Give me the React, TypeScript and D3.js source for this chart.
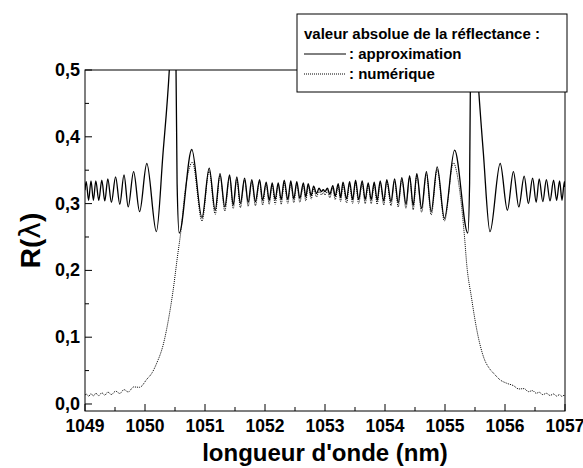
import React from "react";
import * as d3 from "d3";

// ---- data ----
// Approximation: oscillation extrema (wavelength in nm, |R|)
const approxWl = [
  1049.0, 1049.02, 1049.06, 1049.1, 1049.14, 1049.18, 1049.23, 1049.28, 1049.33, 1049.38,
  1049.44, 1049.51, 1049.58, 1049.65, 1049.72, 1049.81, 1049.91, 1050.03, 1050.19, 1050.3,
  1050.405, 1050.46, 1050.517, 1050.535, 1050.57, 1050.78, 1050.95, 1051.07, 1051.17, 1051.25,
  1051.33, 1051.41, 1051.47, 1051.53, 1051.59, 1051.66, 1051.72, 1051.78, 1051.84, 1051.91,
  1051.96, 1052.02, 1052.07, 1052.12, 1052.17, 1052.22, 1052.27, 1052.32, 1052.38, 1052.43,
  1052.48, 1052.53, 1052.58, 1052.64, 1052.68, 1052.72, 1052.77, 1052.81, 1052.86, 1052.9,
  1052.94, 1052.97, 1053.0, 1053.04, 1053.08, 1053.13, 1053.17, 1053.22, 1053.26, 1053.3,
  1053.36, 1053.41, 1053.46, 1053.51, 1053.56, 1053.62, 1053.67, 1053.72, 1053.77, 1053.82,
  1053.87, 1053.92, 1053.98, 1054.03, 1054.1, 1054.16, 1054.22, 1054.28, 1054.35, 1054.41,
  1054.47, 1054.53, 1054.61, 1054.69, 1054.77, 1054.87, 1054.99, 1055.16, 1055.38, 1055.41,
  1055.425, 1055.48, 1055.54, 1055.64, 1055.75, 1055.92, 1056.04, 1056.14, 1056.23, 1056.32,
  1056.39, 1056.46, 1056.52, 1056.57, 1056.63, 1056.69, 1056.75, 1056.81, 1056.86, 1056.91,
  1056.95, 1056.99, 1057.0,
];
const approxR = [
  0.32, 0.333, 0.305, 0.334, 0.305, 0.334, 0.305, 0.335, 0.304, 0.337,
  0.302, 0.34, 0.299, 0.343, 0.295, 0.348, 0.288, 0.36, 0.258, 0.375,
  0.5, 0.6, 0.5, 0.33, 0.256, 0.381, 0.279, 0.353, 0.29, 0.345,
  0.295, 0.343, 0.298, 0.34, 0.3, 0.338, 0.302, 0.336, 0.303, 0.336,
  0.305, 0.332, 0.305, 0.331, 0.306, 0.331, 0.306, 0.335, 0.306, 0.334,
  0.307, 0.333, 0.308, 0.331, 0.31, 0.33, 0.312, 0.326, 0.315, 0.323,
  0.318, 0.321, 0.318, 0.323, 0.314, 0.327, 0.311, 0.33, 0.309, 0.332,
  0.307, 0.333, 0.306, 0.335, 0.306, 0.334, 0.306, 0.331, 0.306, 0.332,
  0.305, 0.334, 0.304, 0.336, 0.303, 0.337, 0.301, 0.339, 0.299, 0.342,
  0.297, 0.345, 0.293, 0.348, 0.288, 0.355, 0.278, 0.38, 0.256, 0.33,
  0.5, 0.6, 0.5, 0.375, 0.258, 0.36, 0.29, 0.348, 0.295, 0.341,
  0.3, 0.338, 0.302, 0.337, 0.303, 0.336, 0.304, 0.335, 0.305, 0.334,
  0.305, 0.333, 0.325,
];

// Numerical solution
const numWl = [
  1049.0, 1049.02, 1049.06, 1049.1, 1049.14, 1049.18, 1049.23, 1049.28, 1049.33, 1049.38,
  1049.44, 1049.51, 1049.58, 1049.65, 1049.72, 1049.81, 1049.91, 1050.03, 1050.12, 1050.19,
  1050.31, 1050.39, 1050.47, 1050.54, 1050.6, 1050.67, 1050.73, 1050.79, 1050.95, 1051.07,
  1051.17, 1051.25, 1051.33, 1051.41, 1051.47, 1051.53, 1051.59, 1051.66, 1051.72, 1051.78,
  1051.84, 1051.91, 1051.96, 1052.02, 1052.07, 1052.12, 1052.17, 1052.22, 1052.27, 1052.32,
  1052.38, 1052.43, 1052.48, 1052.53, 1052.58, 1052.64, 1052.68, 1052.72, 1052.77, 1052.81,
  1052.86, 1052.9, 1052.94, 1052.97, 1053.0, 1053.04, 1053.08, 1053.13, 1053.17, 1053.22,
  1053.26, 1053.3, 1053.36, 1053.41, 1053.46, 1053.51, 1053.56, 1053.62, 1053.67, 1053.72,
  1053.77, 1053.82, 1053.87, 1053.92, 1053.98, 1054.03, 1054.1, 1054.16, 1054.22, 1054.28,
  1054.35, 1054.41, 1054.47, 1054.53, 1054.61, 1054.69, 1054.77, 1054.87, 1054.99, 1055.14,
  1055.2, 1055.25, 1055.33, 1055.36, 1055.44, 1055.53, 1055.64, 1055.75, 1055.81, 1055.92,
  1056.03, 1056.14, 1056.23, 1056.32, 1056.39, 1056.46, 1056.52, 1056.57, 1056.63, 1056.69,
  1056.75, 1056.81, 1056.86, 1056.91, 1056.95, 1056.99, 1057.0,
];
const numR = [
  0.013, 0.015, 0.0115, 0.0155, 0.012, 0.016, 0.0125, 0.0168, 0.0132, 0.0178,
  0.0142, 0.0192, 0.0158, 0.0215, 0.018, 0.0255, 0.025, 0.037, 0.047, 0.06,
  0.091, 0.126, 0.171, 0.22, 0.26, 0.32, 0.35, 0.362, 0.274, 0.349,
  0.284, 0.342, 0.289, 0.34, 0.292, 0.337, 0.294, 0.335, 0.296, 0.333,
  0.297, 0.333, 0.298, 0.329, 0.299, 0.328, 0.299, 0.328, 0.299, 0.331,
  0.3, 0.33, 0.301, 0.329, 0.302, 0.327, 0.304, 0.326, 0.307, 0.322,
  0.31, 0.319, 0.313, 0.317, 0.313, 0.319, 0.309, 0.323, 0.306, 0.326,
  0.303, 0.328, 0.301, 0.329, 0.3, 0.331, 0.3, 0.33, 0.3, 0.328,
  0.3, 0.329, 0.299, 0.331, 0.298, 0.333, 0.297, 0.334, 0.295, 0.336,
  0.293, 0.339, 0.291, 0.342, 0.287, 0.345, 0.283, 0.351, 0.274, 0.361,
  0.345, 0.316, 0.245, 0.211, 0.16, 0.111, 0.071, 0.052, 0.046, 0.036,
  0.031, 0.0275, 0.0225, 0.023, 0.0185, 0.02, 0.016, 0.0175, 0.014, 0.016,
  0.0128, 0.015, 0.0118, 0.014, 0.0112, 0.0135, 0.0125,
];

const xTicks = [1049, 1050, 1051, 1052, 1053, 1054, 1055, 1056, 1057];
const xMinorTicks = [1049.5, 1050.5, 1051.5, 1052.5, 1053.5, 1054.5, 1055.5, 1056.5];
const yTicks = [0, 0.1, 0.2, 0.3, 0.4, 0.5];
const yMinorTicks = [0.05, 0.15, 0.25, 0.35, 0.45];

const legendTitle = "valeur absolue de la réflectance :";
const legendItems = [": approximation", ": numérique"];

export default function App() {
  const W = 583;
  const H = 468;
  const left = 85, right = 565, top = 70, bottom = 411;
  const x = d3.scaleLinear().domain([1049, 1057]).range([left, right]);
  const y = d3.scaleLinear().domain([-0.0105, 0.5]).range([bottom, top]);

  const approx = approxWl.map((w, i) => [w, approxR[i]] as [number, number]);
  const num = numWl.map((w, i) => [w, numR[i]] as [number, number]);
  const line = d3
    .line<[number, number]>()
    .x((d) => x(d[0]))
    .y((d) => y(d[1]))
    .curve(d3.curveMonotoneX);

  const font = "'Liberation Sans', Arial, sans-serif";
  const fmt = (v: number) => v.toFixed(1).replace(".", ",");

  return (
    <svg
      width={W}
      height={H}
      style={{ position: "absolute", left: 0, top: 0, background: "#fff" }}
      fontFamily={font}
    >
      <defs>
        <clipPath id="plotclip">
          <rect x={left} y={top} width={right - left} height={bottom - top} />
        </clipPath>
      </defs>
      <rect x={0} y={0} width={W} height={H} fill="#fff" />

      <g clipPath="url(#plotclip)">
        <path d={line(approx) || ""} fill="none" stroke="#000" strokeWidth={1.3} />
        <path
          d={line(num) || ""}
          fill="none"
          stroke="#000"
          strokeWidth={1}
          strokeDasharray="1,1"
        />
      </g>

      {/* frame */}
      <rect x={left} y={top} width={right - left} height={bottom - top} fill="none" stroke="#000" strokeWidth={1} />

      {/* x ticks */}
      {xTicks.map((t) => (
        <g key={"xt" + t}>
          <line x1={x(t)} x2={x(t)} y1={bottom} y2={bottom - 7} stroke="#000" />
          <text
            x={x(t)}
            y={bottom + 21}
            textAnchor="middle"
            fontSize={17.5}
            fontWeight="bold"
          >
            {t}
          </text>
        </g>
      ))}
      {xMinorTicks.map((t) => (
        <line key={"xm" + t} x1={x(t)} x2={x(t)} y1={bottom} y2={bottom - 4} stroke="#000" />
      ))}

      {/* y ticks */}
      {yTicks.map((t) => (
        <g key={"yt" + t}>
          <line x1={left} x2={left + 7} y1={y(t)} y2={y(t)} stroke="#000" />
          <text
            x={left - 5}
            y={y(t) + 6}
            textAnchor="end"
            fontSize={18}
            fontWeight="bold"
          >
            {fmt(t)}
          </text>
        </g>
      ))}
      {yMinorTicks.map((t) => (
        <line key={"ym" + t} x1={left} x2={left + 4} y1={y(t)} y2={y(t)} stroke="#000" />
      ))}

      {/* axis titles */}
      <text x={(left + right) / 2} y={461} textAnchor="middle" fontSize={24} fontWeight="bold">
        longueur d'onde (nm)
      </text>
      <text
        transform={`translate(40, ${(top + bottom) / 2}) rotate(-90)`}
        textAnchor="middle"
        fontSize={28}
      >
        <tspan fontWeight="bold">R(</tspan>
        <tspan fontFamily="'DejaVu Sans', sans-serif" fontWeight="normal">λ</tspan>
        <tspan fontWeight="bold">)</tspan>
      </text>

      {/* legend */}
      <rect x={297} y={14} width={270} height={78} fill="#fff" stroke="#000" strokeWidth={1} />
      <text x={304} y={39} fontSize={15} fontWeight="bold">
        {legendTitle}
      </text>
      <line x1={304} x2={346} y1={54} y2={54} stroke="#000" strokeWidth={1} />
      <text x={349} y={59} fontSize={15} fontWeight="bold">
        {legendItems[0]}
      </text>
      <line x1={304} x2={346} y1={74} y2={74} stroke="#000" strokeWidth={1} strokeDasharray="1,1" />
      <text x={349} y={79} fontSize={15} fontWeight="bold">
        {legendItems[1]}
      </text>
    </svg>
  );
}
